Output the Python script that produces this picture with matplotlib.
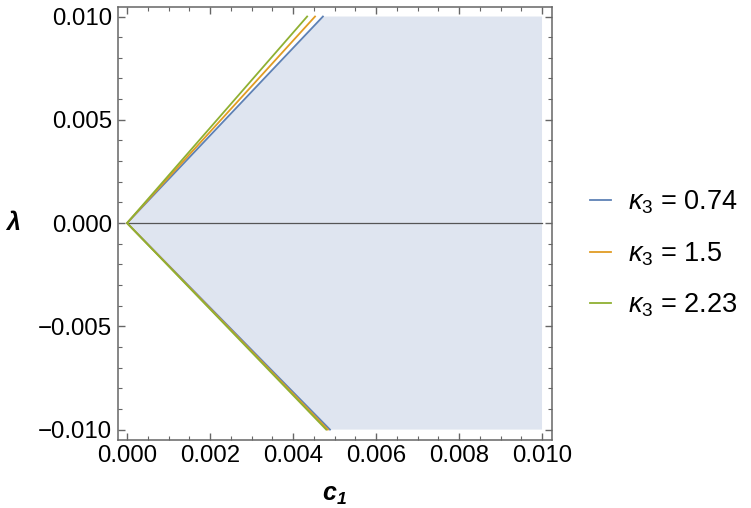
import numpy as np
import matplotlib
matplotlib.use('Agg')
import matplotlib.pyplot as plt
from matplotlib.ticker import MultipleLocator

plt.rcParams['font.family'] = ['Liberation Sans', 'DejaVu Sans']
plt.rcParams['mathtext.fontset'] = 'custom'
plt.rcParams['mathtext.rm'] = 'Liberation Sans'
plt.rcParams['mathtext.it'] = 'Liberation Sans:italic'
plt.rcParams['mathtext.bf'] = 'Liberation Sans:bold:italic'

# data
kappa3 = [0.74, 1.5, 2.23]
c1_upper = [0.00472, 0.00453, 0.00434]   # c1 where the boundary hits lambda = 0.010
c1_lower = [0.00489, 0.00484, 0.00480]   # c1 where the boundary hits lambda = -0.010
lam_top = 0.010
lam_bot = -0.010
c1_max = 0.010

colors = ['#5E81B5', '#E19C24', '#8FB032']
frame = '#666666'

fig = plt.figure(figsize=(7.51, 5.08), dpi=100)
ax = fig.add_axes([0.157, 0.134, 0.578, 0.853])

# shaded region (bounded by first kappa curve)
ax.fill([0, c1_upper[0], c1_max, c1_max, c1_lower[0]],
        [0, lam_top, lam_top, lam_bot, lam_bot],
        color='#DFE5F0', lw=0, zorder=1)
ax.plot([0, c1_max], [0, 0], color='#555555', lw=0.9, zorder=2)

for k, up, lo, col in zip(kappa3, c1_upper, c1_lower, colors):
    ax.plot([lo, 0, up], [lam_bot, 0, lam_top], color=col, lw=1.3,
            label=r'$\kappa_3$ = ' + str(k), zorder=3, solid_joinstyle='miter')

ax.set_xlim(-0.00022, 0.01024)
ax.set_ylim(-0.0105, 0.01048)

ax.xaxis.set_major_locator(MultipleLocator(0.002))
ax.xaxis.set_minor_locator(MultipleLocator(0.0005))
ax.yaxis.set_major_locator(MultipleLocator(0.005))
ax.yaxis.set_minor_locator(MultipleLocator(0.001))
ax.xaxis.set_major_formatter(lambda v, p: '%.3f' % v)
ax.yaxis.set_major_formatter(lambda v, p: ('%.3f' % v).replace('-', '\u2212'))

ax.tick_params(which='both', direction='in', top=True, right=True,
               color=frame, labelsize=17.3, labelcolor='black', pad=4)
ax.tick_params(which='major', length=5, width=1)
ax.tick_params(which='minor', length=3, width=0.8)
for s in ax.spines.values():
    s.set_color(frame)
    s.set_linewidth(1.1)

ax.set_xlabel(r'$\mathbf{c_1}$', fontsize=18, labelpad=11)
ax.set_ylabel(r'$\mathbf{\lambda}$', fontsize=18, rotation=0, va='center', ha='center')
ax.yaxis.set_label_coords(-0.242, 0.5)

leg = fig.legend(loc='center left', bbox_to_anchor=(0.786, 0.50), frameon=False,
                 fontsize=19.5, handlelength=0.75, handletextpad=0.65, labelspacing=0.88,
                 borderpad=0, borderaxespad=0)
for line in leg.get_lines():
    line.set_linewidth(1.3)

fig.savefig('out.png', dpi=100)
